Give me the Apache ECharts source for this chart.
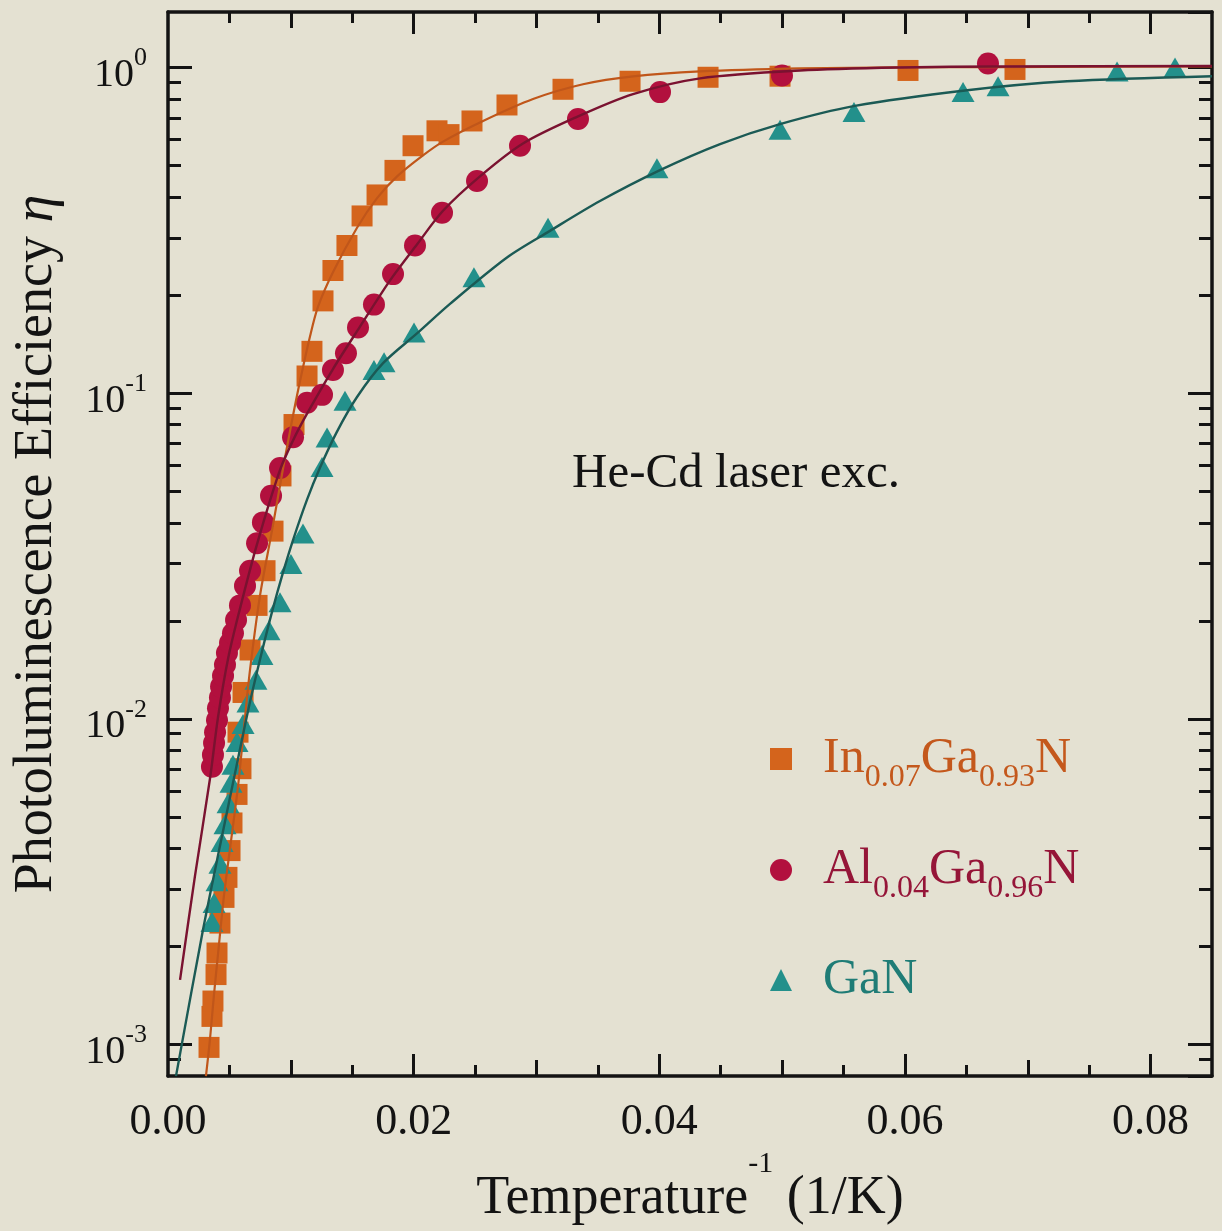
<!DOCTYPE html>
<html>
<head>
<meta charset="utf-8">
<title>Photoluminescence efficiency vs inverse temperature</title>
<script src="https://cdn.jsdelivr.net/npm/echarts@6.0.0/dist/echarts.min.js"></script>
<style>
  html, body { margin: 0; padding: 0; background: #e4e1d2; }
  #main { width: 1222px; height: 1231px; }
</style>
</head>
<body>
<div id="main"></div>
<script>
const inganX = [0.00334, 0.00358, 0.00366, 0.00391, 0.00399, 0.00423, 0.00456, 0.00480, 0.00505, 0.00521,
  0.00562, 0.00594, 0.00570, 0.00611, 0.00668, 0.00725, 0.00790, 0.00855, 0.00920, 0.01026,
  0.01132, 0.01172, 0.01262, 0.01343, 0.01457, 0.01580, 0.01702, 0.01848, 0.01995, 0.02190,
  0.02288, 0.02475, 0.02760, 0.03216, 0.03762, 0.04397, 0.04983, 0.06025, 0.06896];
const inganEta = [0.00098, 0.00122, 0.00136, 0.00164, 0.00191, 0.00236, 0.00283, 0.00326, 0.00394, 0.00479,
  0.00586, 0.00703, 0.0091, 0.01205, 0.01627, 0.0223, 0.0285, 0.0377, 0.0557, 0.0801,
  0.1129, 0.1344, 0.192, 0.238, 0.284, 0.350, 0.406, 0.483, 0.575, 0.639,
  0.622, 0.685, 0.767, 0.857, 0.907, 0.933, 0.940, 0.979, 0.986];

const alganX = [0.00358, 0.00366, 0.00375, 0.00383, 0.00399, 0.00407, 0.00423, 0.00432, 0.00448, 0.00464,
  0.00480, 0.00505, 0.00529, 0.00554, 0.00586, 0.00627, 0.00668, 0.00725, 0.00773, 0.00839,
  0.00912, 0.01018, 0.01132, 0.01254, 0.01343, 0.01449, 0.01547, 0.01677, 0.01832, 0.02011,
  0.02231, 0.02516, 0.02866, 0.03338, 0.04006, 0.04999, 0.06676];
const alganEta = [0.00713, 0.00775, 0.00843, 0.00910, 0.00990, 0.01077, 0.01163, 0.01256, 0.01357, 0.01465,
  0.01593, 0.0171, 0.0183, 0.0201, 0.0223, 0.0256, 0.0285, 0.0346, 0.0401, 0.0484,
  0.0589, 0.0732, 0.0935, 0.0988, 0.1177, 0.1325, 0.159, 0.187, 0.232, 0.284,
  0.358, 0.448, 0.575, 0.695, 0.840, 0.945, 1.028];

const ganX = [0.00358, 0.00375, 0.00399, 0.00423, 0.00440, 0.00464, 0.00489, 0.00513, 0.00529, 0.00562,
  0.00611, 0.00651, 0.00716, 0.00765, 0.00822, 0.00912, 0.01001, 0.01099, 0.01254, 0.01295,
  0.01441, 0.01677, 0.01759, 0.02003, 0.02491, 0.03094, 0.03981, 0.04983, 0.05585, 0.06473,
  0.06758, 0.07727, 0.08199];
const ganEta = [0.00238, 0.00272, 0.00317, 0.00359, 0.00419, 0.00475, 0.00551, 0.00637, 0.00723, 0.00849,
  0.00964, 0.01123, 0.01319, 0.0157, 0.0187, 0.0228, 0.0299, 0.0371, 0.0593, 0.0731,
  0.0947, 0.1177, 0.1245, 0.1535, 0.227, 0.322, 0.490, 0.644, 0.730, 0.840,
  0.876, 0.972, 1.0];

// fitted curves
const inganFitX = [0.00309, 0.00342, 0.00375, 0.00407, 0.00456, 0.00513, 0.00570, 0.00619, 0.00668, 0.00749,
  0.00847, 0.00936, 0.01010, 0.01075, 0.01156, 0.01221, 0.01343, 0.01539, 0.01702, 0.01865,
  0.02076, 0.02239, 0.02565, 0.02972, 0.03379, 0.03786, 0.04332, 0.05146, 0.05960, 0.06774, 0.0850];
const inganFitEta = [0.00080, 0.00104, 0.00143, 0.00189, 0.00287, 0.00422, 0.00620, 0.00943, 0.01415, 0.0239,
  0.0379, 0.0585, 0.0824, 0.1089, 0.1493, 0.184, 0.235, 0.322, 0.397, 0.463,
  0.537, 0.592, 0.685, 0.800, 0.888, 0.939, 0.972, 0.993, 1.0, 1.003, 1.007];

const alganFitX = [0.00098, 0.00220, 0.00342, 0.00407, 0.00489, 0.00586, 0.00725, 0.00912, 0.01018, 0.01132,
  0.01343, 0.01563, 0.01808, 0.02027, 0.02239, 0.02540, 0.02890, 0.03330, 0.03786, 0.04332,
  0.05146, 0.05960, 0.06774, 0.0850];
const alganFitEta = [0.00158, 0.00330, 0.00656, 0.0101, 0.0153, 0.0218, 0.0344, 0.0581, 0.0716, 0.0865,
  0.1186, 0.160, 0.222, 0.286, 0.363, 0.463, 0.584, 0.705, 0.828, 0.926,
  0.979, 1.0, 1.007, 1.010];

const ganFitX = [0.00065, 0.00285, 0.00423, 0.00570, 0.00627, 0.00684, 0.00765, 0.00847, 0.00936, 0.01018,
  0.01132, 0.01238, 0.01376, 0.01539, 0.01751, 0.02027, 0.02296, 0.02760, 0.03110, 0.03517,
  0.04006, 0.04495, 0.04983, 0.05593, 0.06489, 0.07320, 0.0850];
const ganFitEta = [0.00080, 0.00225, 0.00407, 0.00754, 0.00957, 0.0120, 0.0161, 0.0213, 0.0281, 0.0354,
  0.0471, 0.0591, 0.0762, 0.0973, 0.1236, 0.1525, 0.188, 0.261, 0.315, 0.389,
  0.484, 0.582, 0.670, 0.762, 0.850, 0.907, 0.940];

// ticks
const xLabelValues = [0, 0.02, 0.04, 0.06, 0.08];
const xMajorTicks = [0.02, 0.04, 0.06, 0.08];
const xMidTicks = [0.01, 0.03, 0.05, 0.07];
const xMinorTicks = [0.005, 0.015, 0.025, 0.035, 0.045, 0.055, 0.065, 0.075];
const yMin = 0.0008, yMax = 1.48;

const names = ['In0.07Ga0.93N', 'Al0.04Ga0.96N', 'GaN'];

const serif = 'Liberation Serif';
const ink = '#131313';
const colIn = '#d4641c', colAl = '#b2103e', colGa = '#23908b';

function pairs(xs, ys) {
  return xs.map((x, i) => [x, ys[i]]);
}

// minor ticks of the log axis, in log10 units for the helper axis
const yMinorTicks = [];
for (let e = -4; e <= 0; e++) {
  for (let k = 2; k <= 9; k++) {
    const v = k * Math.pow(10, e);
    if (v > yMin * 1.01 && v < yMax) yMinorTicks.push(Math.log10(v));
  }
}

function xPart(pos, ticks, len, main) {
  return {
    type: 'value', position: pos, min: 0, max: 0.085,
    axisLine: { show: main, onZero: false, lineStyle: { color: ink, width: 3.5 } },
    axisTick: { show: true, inside: true, length: len, customValues: ticks, lineStyle: { color: ink, width: 3 } },
    axisLabel: { show: false },
    splitLine: { show: false }
  };
}

function yLogPart(pos) {
  return {
    type: 'log', position: pos, min: yMin, max: yMax, logBase: 10,
    axisLine: { show: true, onZero: false, lineStyle: { color: ink, width: 3.5 } },
    axisTick: { show: true, inside: true, length: 24, lineStyle: { color: ink, width: 3 } },
    axisLabel: { show: false },
    splitLine: { show: false },
    minorTick: { show: false }
  };
}

function yMinorPart(pos) {
  return {
    type: 'value', position: pos, min: Math.log10(yMin), max: Math.log10(yMax),
    axisLine: { show: false, onZero: false },
    axisTick: { show: true, inside: true, length: 13, customValues: yMinorTicks, lineStyle: { color: ink, width: 3 } },
    axisLabel: { show: false },
    splitLine: { show: false }
  };
}

const xBottom = xPart('bottom', xMajorTicks, 22, true);
xBottom.axisLabel = {
  show: true, customValues: xLabelValues, margin: 24,
  formatter: v => v.toFixed(2),
  fontFamily: serif, fontSize: 44, color: ink
};
xBottom.name = '{t|Temperature}{s|-1}{t| (1/K)}';
xBottom.nameLocation = 'middle';
xBottom.nameGap = 56;
xBottom.nameTextStyle = {
  rich: {
    t: { fontFamily: serif, fontSize: 54, color: ink },
    s: { fontFamily: serif, fontSize: 30, color: ink, padding: [0, 0, 70, 0] }
  }
};

const yLeft = yLogPart('left');
yLeft.axisLabel = {
  show: true, margin: 21, showMinLabel: false, showMaxLabel: false,
  formatter: v => {
    const l = Math.log10(v);
    const e = Math.round(l);
    if (Math.abs(l - e) > 1e-6) return '';
    return '{b|10}{s|' + e + '}';
  },
  rich: {
    b: { fontFamily: serif, fontSize: 40, color: ink, padding: [16, 0, 0, 0] },
    s: { fontFamily: serif, fontSize: 26, color: ink, padding: [0, 0, 18, 0] }
  }
};
yLeft.name = '{t|Photoluminescence Efficiency }{e|η}';
yLeft.nameLocation = 'middle';
yLeft.nameRotate = 90;
yLeft.nameGap = 103;
yLeft.nameTextStyle = {
  rich: {
    t: { fontFamily: serif, fontSize: 54, color: ink },
    e: { fontFamily: serif, fontSize: 56, fontStyle: 'italic', color: ink }
  }
};

function legendText(name) {
  if (name === names[0]) return '{g| }{im|In}{is|0.07}{im|Ga}{is|0.93}{im|N}';
  if (name === names[1]) return '{g| }{am|Al}{as|0.04}{am|Ga}{as|0.96}{am|N}';
  return '{g| }{cm|GaN}';
}

const legendRich = {
  g: { width: 26 },
  im: { fontFamily: serif, fontSize: 50, color: '#c4581c' },
  is: { fontFamily: serif, fontSize: 32, color: '#c4581c', padding: [38, 0, 0, 0] },
  am: { fontFamily: serif, fontSize: 50, color: '#951538' },
  as: { fontFamily: serif, fontSize: 32, color: '#951538', padding: [38, 0, 0, 0] },
  cm: { fontFamily: serif, fontSize: 50, color: '#1f7c76' }
};

function legendRow(name, top) {
  return {
    data: [name], left: 770, top: top, padding: 0,
    orient: 'vertical', itemWidth: 22, itemHeight: 22,
    selectedMode: false,
    formatter: legendText,
    textStyle: { rich: legendRich }
  };
}

const chart = echarts.init(document.getElementById('main'));

chart.setOption({
  backgroundColor: '#e4e1d2',
  animation: false,
  grid: { left: 168, right: 10, top: 12, bottom: 143 },
  xAxis: [
    xBottom,
    xPart('bottom', xMidTicks, 16, false),
    xPart('bottom', xMinorTicks, 11, false),
    xPart('top', xMajorTicks, 22, true),
    xPart('top', xMidTicks, 16, false),
    xPart('top', xMinorTicks, 11, false)
  ],
  yAxis: [
    yLeft,
    yMinorPart('left'),
    yLogPart('right'),
    yMinorPart('right')
  ],
  legend: [
    legendRow(names[0], 734),
    legendRow(names[1], 845),
    legendRow(names[2], 955)
  ],
  graphic: [
    {
      type: 'text', left: 572, top: 450,
      style: { text: 'He-Cd laser exc.', font: '49px "Liberation Serif"', fill: ink }
    }
  ],
  series: [
    {
      name: names[0], type: 'scatter', symbol: 'rect', symbolSize: 21, z: 2,
      itemStyle: { color: colIn, opacity: 1 }, data: pairs(inganX, inganEta)
    },
    {
      name: names[1], type: 'scatter', symbol: 'circle', symbolSize: 22, z: 2,
      itemStyle: { color: colAl, opacity: 1 }, data: pairs(alganX, alganEta)
    },
    {
      name: names[2], type: 'scatter', symbol: 'triangle', symbolSize: [23, 20], z: 2,
      itemStyle: { color: colGa, opacity: 1 }, data: pairs(ganX, ganEta)
    },
    {
      name: 'InGaN fit', type: 'line', smooth: 0.3, showSymbol: false, z: 3,
      lineStyle: { color: '#c0561a', width: 2.2 }, data: pairs(inganFitX, inganFitEta)
    },
    {
      name: 'AlGaN fit', type: 'line', smooth: 0.3, showSymbol: false, z: 3,
      lineStyle: { color: '#7a1230', width: 2.4 }, data: pairs(alganFitX, alganFitEta)
    },
    {
      name: 'GaN fit', type: 'line', smooth: 0.3, showSymbol: false, z: 3,
      lineStyle: { color: '#1b5a55', width: 2.4 }, data: pairs(ganFitX, ganFitEta)
    }
  ]
});
</script>
</body>
</html>
